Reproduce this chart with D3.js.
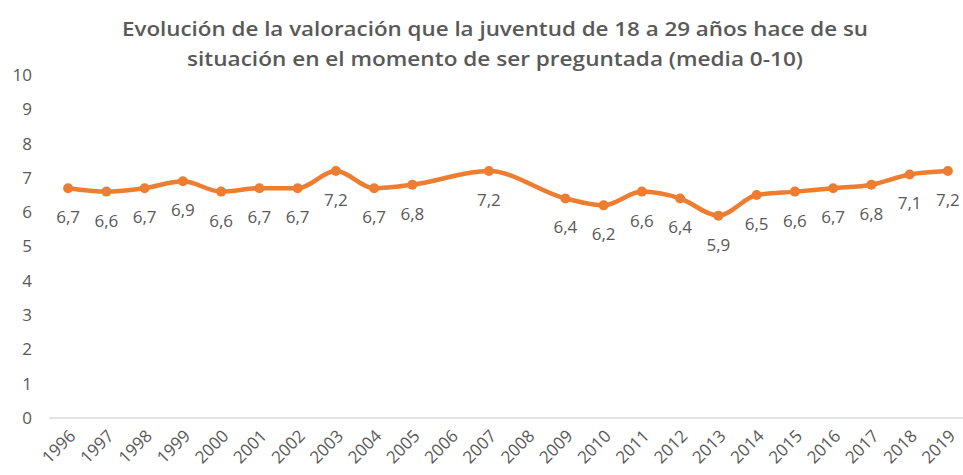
<!DOCTYPE html>
<html>
<head>
<meta charset="utf-8">
<script src="https://cdn.jsdelivr.net/npm/d3@7"></script>
<style>
  body { margin: 0; background: #fff; }
  text { font-family: "Open Sans", "Noto Sans", sans-serif; }
</style>
</head>
<body>
<div id="chart"></div>
<script>
const svgWidth = 963;
const svgHeight = 475;

const years = ["1996", "1997", "1998", "1999", "2000", "2001", "2002", "2003", "2004", "2005", "2006",
    "2007", "2008", "2009", "2010", "2011", "2012", "2013", "2014", "2015", "2016", "2017", "2018", "2019"];
// null = no survey that year (line joins across)
const values = [6.7, 6.6, 6.7, 6.9, 6.6, 6.7, 6.7, 7.2, 6.7, 6.8, null,
    7.2, null, 6.4, 6.2, 6.6, 6.4, 5.9, 6.5, 6.6, 6.7, 6.8, 7.1, 7.2];
const yTicks = [0, 1, 2, 3, 4, 5, 6, 7, 8, 9, 10];
const titleLines = [
    "Evolución de la valoración que la juventud de 18 a 29 años hace de su",
    "situación en el momento de ser preguntada (media 0-10)"
];

const grey = "#595959";
const orange = "#ED7D31";

const points = years.map((y, i) => ({ year: y, value: values[i] }))
    .filter(d => d.value !== null);

const xScale = d3.scalePoint()
    .domain(years)
    .range([49, 967])
    .padding(0.5);
const yScale = d3.scaleLinear()
    .domain([0, 10])
    .range([418, 75]);

const svg = d3.select("#chart")
    .append("svg")
    .attr("width", svgWidth)
    .attr("height", svgHeight);

// title
svg.append("g")
    .selectAll("text")
    .data(titleLines)
    .enter()
    .append("text")
    .attr("x", 495)
    .attr("y", (d, i) => 36 + i * 30)
    .attr("text-anchor", "middle")
    .attr("fill", grey)
    .attr("font-size", 20)
    .attr("font-weight", 600)
    .attr("textLength", (d, i) => i === 0 ? 746 : 616)
    .attr("lengthAdjust", "spacingAndGlyphs")
    .text(d => d);

// y axis (labels only)
const yAxis = d3.axisLeft(yScale).tickValues(yTicks).tickSize(0).tickPadding(0);
const yG = svg.append("g")
    .attr("transform", "translate(32, 0)")
    .call(yAxis);
yG.select(".domain").remove();
yG.selectAll("text")
    .attr("fill", grey)
    .attr("font-size", 17)
    .style("font-family", "'Open Sans', sans-serif");

// x axis
const xAxis = d3.axisBottom(xScale).tickSize(0).tickPadding(0);
const xG = svg.append("g")
    .attr("transform", `translate(0, ${yScale(0)})`)
    .call(xAxis);
xG.select(".domain")
    .attr("stroke", "#d9d9d9")
    .attr("stroke-width", 1.5)
    .attr("d", "M49,0H967");
xG.selectAll("text")
    .attr("fill", grey)
    .attr("font-size", 17)
    .style("font-family", "'Open Sans', sans-serif")
    .attr("text-anchor", "end")
    .attr("dy", 0)
    .attr("transform", "translate(8, 19) rotate(-45)");

// line
const line = d3.line()
    .x(d => xScale(d.year))
    .y(d => yScale(d.value))
    .curve(d3.curveMonotoneX);

svg.append("path")
    .datum(points)
    .attr("d", line)
    .attr("fill", "none")
    .attr("stroke", orange)
    .attr("stroke-width", 4.5)
    .attr("stroke-linejoin", "round");

svg.append("g")
    .selectAll("circle")
    .data(points)
    .enter()
    .append("circle")
    .attr("cx", d => xScale(d.year))
    .attr("cy", d => yScale(d.value))
    .attr("r", 5)
    .attr("fill", orange);

// data labels
svg.append("g")
    .selectAll("text")
    .data(points)
    .enter()
    .append("text")
    .attr("x", d => xScale(d.year))
    .attr("y", d => yScale(d.value) + 35)
    .attr("text-anchor", "middle")
    .attr("fill", grey)
    .attr("font-size", 17)
    .text(d => d3.format(".1f")(d.value).replace(".", ","));
</script>
</body>
</html>
